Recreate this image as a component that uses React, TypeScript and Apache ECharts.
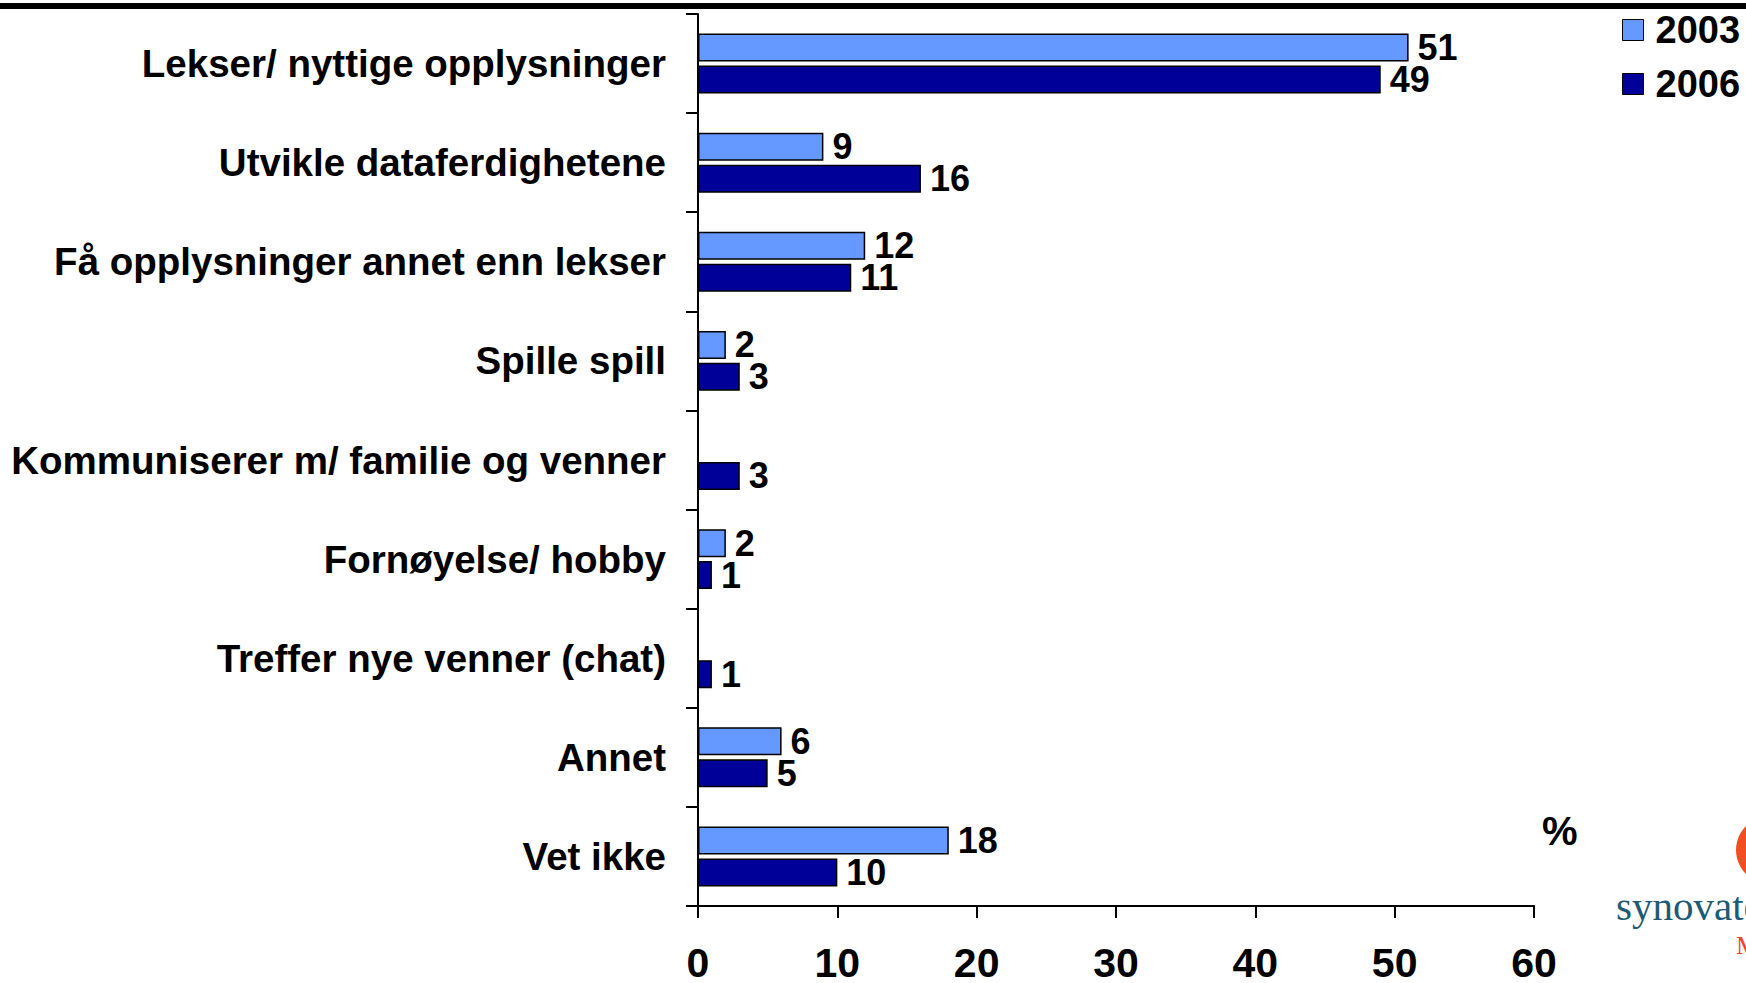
import React, { useEffect, useRef } from "react";
import * as echarts from "echarts";

const categories = [
  "Lekser/ nyttige opplysninger",
  "Utvikle dataferdighetene",
  "Få opplysninger annet enn lekser",
  "Spille spill",
  "Kommuniserer m/ familie og venner",
  "Fornøyelse/ hobby",
  "Treffer nye venner (chat)",
  "Annet",
  "Vet ikke",
];
const values2003: (number | null)[] = [51, 9, 12, 2, null, 2, null, 6, 18];
const values2006: number[] = [49, 16, 11, 3, 3, 1, 1, 5, 10];
const seriesNames = ["2003", "2006"];
const xTicks = { min: 0, max: 60, interval: 10 };

const FONT = "'Liberation Sans', Arial, sans-serif";

export default function App() {
  const ref = useRef<HTMLDivElement>(null);
  useEffect(() => {
    if (!ref.current) return;
    const chart = echarts.init(ref.current, null, { renderer: "svg" });
    const labelStyle = {
      show: true,
      position: "right" as const,
      distance: 9,
      color: "#000",
      fontFamily: FONT,
      fontWeight: "bold" as const,
      fontSize: 36,
    };
    chart.setOption({
      animation: false,
      backgroundColor: "#fff",
      grid: { left: 698, right: 212, top: 14, bottom: 72, containLabel: false },
      legend: {
        orient: "vertical",
        left: 1622,
        top: 11,
        padding: 0,
        itemWidth: 21,
        itemHeight: 21,
        itemGap: 16,
        icon: "rect",
        itemStyle: { borderColor: "#000", borderWidth: 1 },
        textStyle: { fontFamily: FONT, fontWeight: "bold", fontSize: 38, color: "#000", padding: [0, 0, 0, 7] },
        data: seriesNames,
      },
      xAxis: {
        type: "value",
        min: xTicks.min,
        max: xTicks.max,
        interval: xTicks.interval,
        splitLine: { show: false },
        axisLine: { show: true, lineStyle: { color: "#000", width: 2 } },
        axisTick: { show: true, length: 12, lineStyle: { color: "#000", width: 2 } },
        axisLabel: { margin: 36, color: "#000", fontFamily: FONT, fontWeight: "bold", fontSize: 41 },
      },
      yAxis: {
        type: "category",
        inverse: true,
        data: categories,
        axisLine: { show: true, lineStyle: { color: "#000", width: 2 } },
        axisTick: { show: true, length: 12, lineStyle: { color: "#000", width: 2 } },
        axisLabel: { margin: 32, color: "#000", fontFamily: FONT, fontWeight: "bold", fontSize: 38.5 },
      },
      series: [
        {
          name: seriesNames[0],
          type: "bar",
          data: values2003.map((v) => (v === null ? "-" : v)),
          barWidth: 28,
          barGap: "14%",
          itemStyle: { color: "#6699FF", borderColor: "#000", borderWidth: 1.5 },
          label: labelStyle,
        },
        {
          name: seriesNames[1],
          type: "bar",
          data: values2006,
          barWidth: 28,
          itemStyle: { color: "#000099", borderColor: "#000", borderWidth: 1.5 },
          label: labelStyle,
        },
      ],
      graphic: [
        { type: "rect", shape: { x: 0, y: 3, width: 1746, height: 6 }, style: { fill: "#000" } },
        {
          type: "text",
          x: 1542,
          y: 811,
          style: { text: "%", fontFamily: FONT, fontWeight: "bold", fontSize: 40, fill: "#000" },
        },
        { type: "circle", shape: { cx: 1770, cy: 850, r: 34 }, style: { fill: "#F04E23" } },
        {
          type: "text",
          x: 1616,
          y: 885,
          style: { text: "synovate", fontFamily: "'Liberation Serif', serif", fontSize: 41, fill: "#1D5A73" },
        },
        {
          type: "text",
          x: 1736,
          y: 932,
          style: { text: "M", fontFamily: "'Liberation Serif', serif", fontSize: 26, fill: "#E8452C" },
        },
      ],
    });
    return () => chart.dispose();
  }, []);
  return <div ref={ref} style={{ width: 1746, height: 983, position: "absolute", left: 0, top: 0 }} />;
}
